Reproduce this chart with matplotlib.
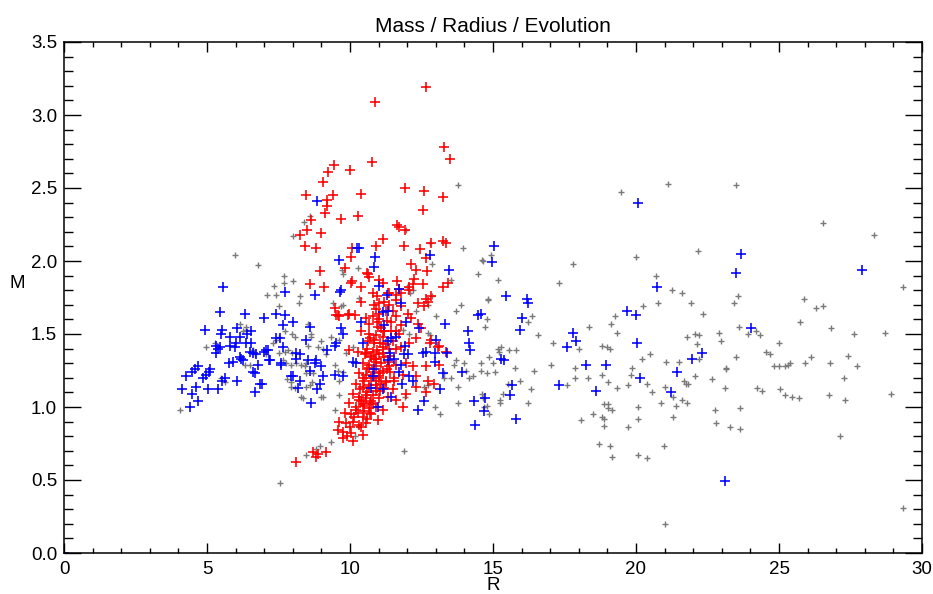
import matplotlib
matplotlib.use("Agg")
import matplotlib.pyplot as plt
from matplotlib.ticker import MultipleLocator

plt.rcParams["font.family"] = ["Liberation Sans", "DejaVu Sans"]

# gray: all stars
gray_r = [5.97, 6.78, 7.69, 7.69, 8.00, 7.36, 7.42, 7.11, 8.24, 8.38, 8.59, 8.00,
          13.76, 13.94, 14.61, 14.93, 14.46, 15.16, 17.78, 17.31, 10.27, 9.73, 9.75,
          11.96, 12.87, 13.53, 14.81, 12.80, 12.00, 12.20, 12.10,
          19.49, 21.13, 23.48, 26.54, 28.31, 19.99, 22.16, 20.69, 21.27, 21.62, 23.57,
          25.88, 29.35,
          20.77, 20.24, 21.93, 22.35, 19.27, 19.14, 19.35, 23.42, 26.29, 26.53, 25.73,
          26.83, 27.61, 28.69, 23.60, 23.91, 24.18, 24.32, 22.90, 22.98, 21.79, 22.08,
          22.22, 22.14, 24.99, 18.82, 19.00, 19.09, 24.55, 24.70, 20.48, 20.20, 21.04,
          21.50, 22.20, 23.48, 26.12, 25.92, 26.77, 27.41, 27.74, 24.82, 24.99, 25.20,
          25.32, 25.37, 23.13, 23.16, 19.87, 18.82, 19.81, 19.03, 19.35, 19.73, 20.39,
          20.55, 21.01, 21.67, 21.75, 21.83, 22.05, 22.64, 23.11, 24.23, 24.39, 25.05,
          25.20, 25.46, 25.69, 26.76, 27.32, 28.92, 27.29, 21.29, 20.86, 21.41, 21.62,
          21.79, 20.07, 18.88, 19.02, 19.03, 19.17, 18.82, 18.88, 18.88, 19.73, 20.08,
          21.29, 22.76, 22.80, 23.65, 23.27, 23.62, 27.12, 19.09, 19.17, 18.71, 20.08,
          20.37, 20.98, 21.00, 29.35,
          14.64, 14.83, 14.78, 14.73, 16.35, 16.21, 16.59, 17.10, 18.01, 18.36, 15.16,
          15.28, 15.22, 15.57, 15.80, 14.87, 14.58, 15.01, 14.78, 15.08, 14.58, 15.78,
          16.44, 17.02, 17.86, 17.86, 15.95, 15.54, 17.57, 18.32, 16.32, 15.34, 14.61,
          15.24, 15.24, 16.24, 14.78, 14.85, 18.50, 18.07,
          13.88, 13.70, 13.00, 12.72, 12.31, 12.87, 9.75, 9.40, 9.69, 10.33, 12.72,
          12.78, 11.84, 12.08, 13.70, 13.65, 14.00, 14.05, 14.29, 14.17, 13.76, 13.30,
          13.30, 13.53, 12.60, 12.72, 11.94, 12.98, 13.16, 13.76, 14.64, 14.69, 11.90,
          9.34, 8.94, 8.82, 8.47, 8.30, 8.99, 8.59, 9.63, 9.46, 10.39, 10.27, 10.16,
          8.41, 8.47, 8.70, 8.64, 8.99, 9.34, 9.63, 10.10, 9.87, 9.46, 9.57, 9.75, 9.63,
          7.51, 8.21, 8.53, 8.64, 7.71, 7.98, 8.06, 7.31, 7.42, 7.51, 6.35, 6.26, 5.27,
          4.98, 8.88, 8.53, 7.51, 7.71, 7.83, 7.98, 7.65, 7.77, 7.95, 8.12, 8.30, 8.45,
          7.80, 7.95, 7.95, 8.06, 8.47, 8.68, 8.35, 9.05, 9.05, 9.17, 6.61, 6.67, 6.32,
          6.49, 5.50, 5.62, 4.05, 7.07, 7.54, 6.14, 6.38]
gray_m = [2.04, 1.97, 1.90, 1.85, 1.86, 1.83, 1.77, 1.77, 1.76, 2.27, 2.31, 2.17,
          2.52, 2.09, 2.01, 2.04, 1.91, 1.87, 1.98, 1.85, 1.95, 1.94, 1.91,
          2.21, 1.98, 1.87, 1.74, 2.12, 1.82, 1.80, 1.78,
          2.47, 2.53, 2.52, 2.26, 2.18, 2.03, 2.07, 1.90, 1.80, 1.78, 1.76,
          1.74, 1.82,
          1.71, 1.69, 1.71, 1.64, 1.62, 1.57, 1.51, 1.71, 1.68, 1.69, 1.58,
          1.54, 1.50, 1.51, 1.55, 1.50, 1.52, 1.49, 1.51, 1.45, 1.48, 1.50,
          1.49, 1.43, 1.44, 1.42, 1.41, 1.40, 1.38, 1.36, 1.36, 1.33, 1.31,
          1.31, 1.33, 1.34, 1.34, 1.30, 1.30, 1.35, 1.28, 1.28, 1.28, 1.28,
          1.29, 1.30, 1.27, 1.26, 1.27, 1.22, 1.22, 1.17, 1.13, 1.15, 1.16,
          1.10, 1.14, 1.18, 1.16, 1.16, 1.21, 1.19, 1.13, 1.13, 1.11, 1.12,
          1.08, 1.07, 1.06, 1.08, 1.05, 1.09, 1.20, 1.07, 1.03, 1.01, 1.05,
          1.03, 1.00, 1.02, 1.02, 0.99, 0.98, 0.93, 0.92, 0.87, 0.86, 0.92,
          0.93, 0.98, 0.89, 0.99, 0.86, 0.85, 0.80, 0.73, 0.66, 0.75, 0.67,
          0.65, 0.73, 0.20, 0.31,
          2.00, 1.73, 1.60, 1.55, 1.62, 1.58, 1.49, 1.44, 1.40, 1.55, 1.40,
          1.41, 1.38, 1.39, 1.39, 1.34, 1.30, 1.30, 1.23, 1.24, 1.25, 1.27,
          1.25, 1.29, 1.27, 1.20, 1.18, 1.16, 1.15, 1.20, 1.12, 1.09, 1.09,
          1.05, 1.03, 1.03, 1.01, 0.95, 0.95, 0.91,
          1.70, 1.66, 1.62, 1.70, 1.66, 1.76, 1.70, 1.71, 1.69, 1.75, 1.51,
          1.49, 1.53, 1.50, 1.32, 1.29, 1.30, 1.25, 1.21, 1.20, 1.14, 1.23,
          1.20, 1.20, 1.14, 1.15, 1.07, 1.00, 0.95, 1.03, 1.06, 1.00, 0.70,
          0.76, 0.73, 0.71, 0.67, 1.07, 1.07, 1.15, 1.08, 0.98, 1.03, 0.87, 0.80,
          1.28, 1.23, 1.23, 1.48, 1.45, 1.48, 1.46, 1.41, 1.37, 1.29, 1.25, 1.24, 1.18,
          1.69, 1.71, 1.57, 1.50, 1.52, 1.50, 1.48, 1.44, 1.46, 1.48, 1.55, 1.52, 1.44,
          1.41, 1.41, 1.42, 1.37, 1.38, 1.39, 1.37, 1.32, 1.30, 1.29, 1.30, 1.29, 1.30,
          1.19, 1.17, 1.14, 1.13, 1.14, 1.17, 1.06, 1.07, 1.40, 1.36, 1.39, 1.36, 1.29,
          1.29, 1.20, 1.17, 0.98, 1.36, 0.48, 1.57, 1.53]

# blue: main sequence sample
blue_r = [0.00,
          4.92, 5.45, 4.13, 4.28, 4.46, 4.57, 4.69, 4.49, 4.63, 4.42, 4.69, 4.86, 4.98,
          5.07, 5.10, 5.04, 5.39, 5.31, 5.33, 5.39, 5.45, 5.50, 5.53, 5.80, 5.77, 5.91,
          5.54, 5.62, 6.06, 5.79, 5.97, 6.03, 6.06, 6.14, 6.32, 6.14, 6.20, 6.26, 6.38,
          6.55, 6.40, 6.55, 6.51, 6.61, 6.61, 6.67, 6.78, 6.72, 6.69, 6.86, 6.93, 7.00,
          7.07, 6.99, 7.17, 7.40, 7.71, 8.00, 7.65, 7.54, 7.60, 7.65, 8.00, 8.12, 8.24,
          8.18, 8.47, 8.64, 8.59, 8.53, 7.71, 5.56, 8.76,
          8.59, 8.24, 8.12, 8.76, 8.82, 8.99, 9.05, 8.94, 7.95, 8.84, 7.57, 7.42, 7.13,
          7.19, 9.21,
          8.85, 10.25, 10.31, 15.02, 14.95, 9.63, 10.89, 10.85, 12.80, 13.47, 9.66,
          9.69, 11.03, 11.28, 11.73, 15.47, 16.18,
          20.08, 23.68, 23.48, 27.90, 20.75,
          19.70, 19.99, 20.05, 18.96, 20.13, 21.44, 21.97, 22.32, 21.24, 24.02, 23.10,
          16.23, 14.58, 16.01, 15.95, 17.81, 17.90, 17.58, 15.28, 15.39, 18.24, 17.31,
          18.59, 15.65, 15.59, 14.73, 14.69, 15.80,
          14.46, 13.33, 14.11, 14.17, 14.21, 13.00, 12.98, 12.98, 13.38, 12.66, 12.54,
          13.90, 13.24, 13.16, 12.60, 12.37, 14.35, 14.38, 12.41, 11.96, 11.94, 12.02,
          11.79, 11.15, 11.32, 11.20, 11.44, 11.32, 11.61, 11.41, 11.55, 11.32, 11.90,
          11.79, 11.73, 10.85, 10.79, 10.74, 11.15, 11.44, 12.19, 12.08, 11.82, 10.97,
          10.45, 10.10, 10.22, 9.75, 9.69, 9.52, 9.46, 9.46, 9.75, 10.39]
blue_m = [0.00,
          1.53, 1.65, 1.12, 1.21, 1.24, 1.26, 1.28, 1.09, 1.14, 1.00, 1.04, 1.20, 1.22,
          1.24, 1.26, 1.12, 1.12, 1.42, 1.37, 1.40, 1.41, 1.50, 1.53, 1.48, 1.30, 1.31,
          1.18, 1.20, 1.18, 1.42, 1.41, 1.44, 1.54, 1.48, 1.64, 1.34, 1.33, 1.32, 1.44,
          1.44, 1.50, 1.52, 1.38, 1.37, 1.24, 1.23, 1.29, 1.36, 1.10, 1.16, 1.16, 1.38,
          1.39, 1.61, 1.32, 1.64, 1.63, 1.58, 1.56, 1.47, 1.29, 1.41, 1.21, 1.37, 1.18,
          1.13, 1.46, 1.03, 1.25, 1.32, 1.79, 1.82, 1.77,
          1.55, 1.36, 1.33, 1.30, 1.32, 1.28, 1.21, 1.16, 1.21, 1.12, 1.30, 1.47, 1.39,
          1.32, 1.39,
          2.41, 2.09, 2.09, 2.10, 1.99, 2.01, 2.03, 1.96, 2.04, 1.94, 1.79,
          1.80, 1.83, 1.77, 1.81, 1.76, 1.74,
          2.40, 2.05, 1.92, 1.94, 1.82,
          1.66, 1.63, 1.44, 1.29, 1.20, 1.24, 1.33, 1.37, 1.10, 1.54, 0.49,
          1.71, 1.64, 1.61, 1.53, 1.51, 1.45, 1.41, 1.33, 1.32, 1.29, 1.15,
          1.11, 1.15, 1.08, 1.06, 0.97, 0.92,
          1.63, 1.57, 1.52, 1.44, 1.39, 1.46, 1.37, 1.31, 1.37, 1.38, 1.37,
          1.24, 1.23, 1.12, 1.04, 0.98, 1.04, 0.88, 1.54, 1.58, 1.42, 1.36,
          1.71, 1.65, 1.66, 1.56, 1.47, 1.45, 1.48, 1.37, 1.33, 1.32, 1.36,
          1.29, 1.24, 1.26, 1.21, 1.13, 1.12, 1.07, 1.18, 1.21, 1.16, 1.00,
          1.44, 1.31, 1.30, 1.50, 1.54, 1.44, 1.42, 1.22, 1.21, 1.58]

# red: evolved sample
red_r = [12.65, 10.89, 13.27, 13.50, 9.43, 9.22, 9.99, 10.77, 9.06, 8.47, 9.42, 9.21,
         9.21, 10.39, 11.93, 12.57, 13.24, 12.54, 9.11, 8.63, 9.69, 10.27, 11.63, 11.73,
         11.94, 8.49, 8.24, 8.99, 8.44, 8.82, 11.15, 11.88, 10.90, 10.08, 10.04, 12.83,
         13.26, 13.36, 12.45, 12.66, 12.14, 9.81, 8.96, 12.31, 12.68, 10.62, 11.03,
         11.65, 12.23, 10.06, 8.59, 9.09, 12.54, 13.24, 13.41, 10.37, 10.80, 11.38,
         11.73, 12.08,
         8.12, 8.70, 8.88, 8.82, 9.17,
         11.32, 11.61, 11.79, 12.08, 12.19, 11.15, 10.04, 10.66, 10.58, 12.83, 12.66,
         10.39, 11.03, 11.20, 11.38, 11.61, 11.79, 12.37, 12.60, 12.72, 9.52, 9.93,
         10.16, 10.56, 10.80, 11.03, 10.68, 10.97, 12.02, 12.14, 12.37, 12.49, 11.79,
         11.61, 11.44, 10.39, 10.68, 10.91, 11.15, 10.62, 10.85, 11.15, 11.38, 11.79,
         12.08, 12.31, 12.78, 13.07, 9.98, 10.27, 10.51, 10.74, 10.91, 10.45, 10.68,
         10.91, 11.15, 11.38, 11.61, 11.96, 12.19, 12.66, 13.12, 10.33, 10.56, 10.74,
         11.03, 11.26, 11.55, 11.84, 12.31, 12.72, 12.95, 10.22, 10.45, 10.68, 10.91,
         11.20, 11.49, 11.96, 12.31, 12.66, 10.10, 10.33, 10.56, 10.80, 11.03, 11.32,
         11.61, 9.98, 10.22, 10.45, 10.68, 10.91, 11.15, 11.84, 9.81, 10.04, 10.27,
         10.45, 10.74, 10.97, 9.63, 9.87, 10.10, 10.33, 10.56, 9.57, 9.75, 10.04, 10.45,
         9.75, 10.10, 9.46, 9.63, 9.57, 9.98, 12.83, 13.12, 13.36,
         10.60, 10.80, 11.00, 11.20, 10.90, 11.10, 11.30, 10.60, 10.80, 10.50, 10.90,
         11.10, 10.60, 10.90, 10.40, 10.70, 10.20, 10.50, 10.80, 11.00, 11.40, 11.60,
         11.20, 11.00, 11.30, 11.60, 10.90, 11.50,
         10.70, 10.85, 11.05, 11.25, 10.55, 10.75, 10.95, 11.15, 11.35, 10.65, 10.85,
         11.05, 11.25, 10.45, 10.65, 10.85, 11.05, 10.35, 10.55, 10.75, 10.95, 10.30,
         10.50, 10.70, 11.45, 11.50, 11.70, 10.95, 11.10, 11.25, 10.85, 10.60, 10.40,
         10.15, 10.00, 9.90, 11.40, 11.55, 11.20, 10.95]
red_m = [3.19, 3.09, 2.78, 2.70, 2.66, 2.61, 2.62, 2.68, 2.54, 2.45, 2.45, 2.42,
         2.38, 2.46, 2.50, 2.48, 2.44, 2.35, 2.33, 2.28, 2.29, 2.31, 2.25, 2.23,
         2.21, 2.21, 2.18, 2.19, 2.10, 2.09, 2.15, 2.10, 2.10, 2.09, 2.03, 2.12,
         2.14, 2.12, 2.08, 2.02, 1.98, 1.95, 1.93, 1.94, 1.93, 1.91, 1.87,
         1.86, 1.88, 1.86, 1.84, 1.82, 1.84, 1.82, 1.85, 1.82, 1.78, 1.78,
         1.81, 1.80,
         0.62, 0.69, 0.68, 0.66, 0.69,
         1.78, 1.77, 1.78, 1.82, 1.84, 1.85, 1.85, 1.89, 1.92, 1.76, 1.74,
         1.72, 1.71, 1.72, 1.70, 1.73, 1.69, 1.71, 1.69, 1.72, 1.63, 1.63,
         1.63, 1.61, 1.62, 1.60, 1.57, 1.55, 1.64, 1.61, 1.57, 1.54, 1.56,
         1.52, 1.52, 1.52, 1.50, 1.49, 1.48, 1.45, 1.44, 1.41, 1.40, 1.41,
         1.44, 1.47, 1.44, 1.41, 1.39, 1.38, 1.36, 1.34, 1.33, 1.30, 1.29,
         1.28, 1.25, 1.28, 1.29, 1.30, 1.28, 1.28, 1.29, 1.23, 1.22, 1.20,
         1.21, 1.18, 1.20, 1.22, 1.21, 1.18, 1.16, 1.16, 1.14, 1.13, 1.15,
         1.13, 1.12, 1.09, 1.14, 1.10, 1.09, 1.07, 1.06, 1.08, 1.06, 1.07,
         1.05, 1.03, 1.00, 1.01, 0.99, 1.00, 0.98, 1.00, 0.96, 0.95, 0.96,
         0.93, 0.95, 0.91, 0.90, 0.89, 0.90, 0.88, 0.89, 0.84, 0.83, 0.82, 0.81,
         0.79, 0.77, 1.68, 1.62, 1.63, 1.64, 1.46, 1.42, 1.38,
         1.40, 1.38, 1.36, 1.34, 1.31, 1.30, 1.26, 1.26, 1.24, 1.18, 1.18,
         1.16, 1.10, 1.11, 1.04, 1.03, 0.98, 0.97, 1.02, 1.20, 1.35, 1.40,
         1.52, 1.64, 1.59, 1.62, 1.67, 1.66,
         1.47, 1.46, 1.44, 1.43, 1.37, 1.35, 1.39, 1.37, 1.31, 1.27, 1.33,
         1.23, 1.17, 1.20, 1.15, 1.21, 1.11, 1.12, 1.08, 1.04, 1.13, 1.05,
         1.02, 0.96, 1.58, 1.45, 1.50, 1.58, 1.54, 1.66, 1.70, 0.92, 0.86,
         0.93, 0.86, 0.80, 1.24, 1.18, 1.52, 1.76]

fig = plt.figure(figsize=(9.33, 5.94), dpi=100)
ax = fig.add_axes([64 / 933, 41 / 594, 858 / 933, 511 / 594])

ax.scatter(gray_r, gray_m, marker="+", s=22, linewidths=1.0, color="#7a7a7a")
ax.scatter(red_r, red_m, marker="+", s=58, linewidths=1.15, color="#ff0000")
ax.scatter(blue_r, blue_m, marker="+", s=58, linewidths=1.15, color="#0000ff")

ax.set_xlim(0, 30)
ax.set_ylim(0, 3.5)
ax.xaxis.set_major_locator(MultipleLocator(5))
ax.xaxis.set_minor_locator(MultipleLocator(1))
ax.yaxis.set_major_locator(MultipleLocator(0.5))
ax.yaxis.set_minor_locator(MultipleLocator(0.1))
ax.xaxis.set_major_formatter(lambda v, p: f"{v:.0f}")
ax.yaxis.set_major_formatter(lambda v, p: f"{v:.1f}")

ax.tick_params(which="both", direction="in", top=True, right=True, width=1,
               labelsize=13.5)
ax.tick_params(axis="x", which="major", length=7.2, pad=6)
ax.tick_params(axis="x", which="minor", length=3.6)
ax.tick_params(axis="y", which="major", length=12.2, pad=5)
ax.tick_params(axis="y", which="minor", length=6.5)
for sp in ax.spines.values():
    sp.set_linewidth(1.1)

ax.set_title("Mass / Radius / Evolution", fontsize=15, pad=7)
ax.set_xlabel("R", fontsize=13.5, va="center")
ax.xaxis.set_label_coords(0.5, -0.064)
ax.set_ylabel("M", fontsize=13.5, rotation=0, va="center", ha="center")
ax.yaxis.set_label_coords(-0.054, 0.528)

fig.savefig("out.png", dpi=100)
